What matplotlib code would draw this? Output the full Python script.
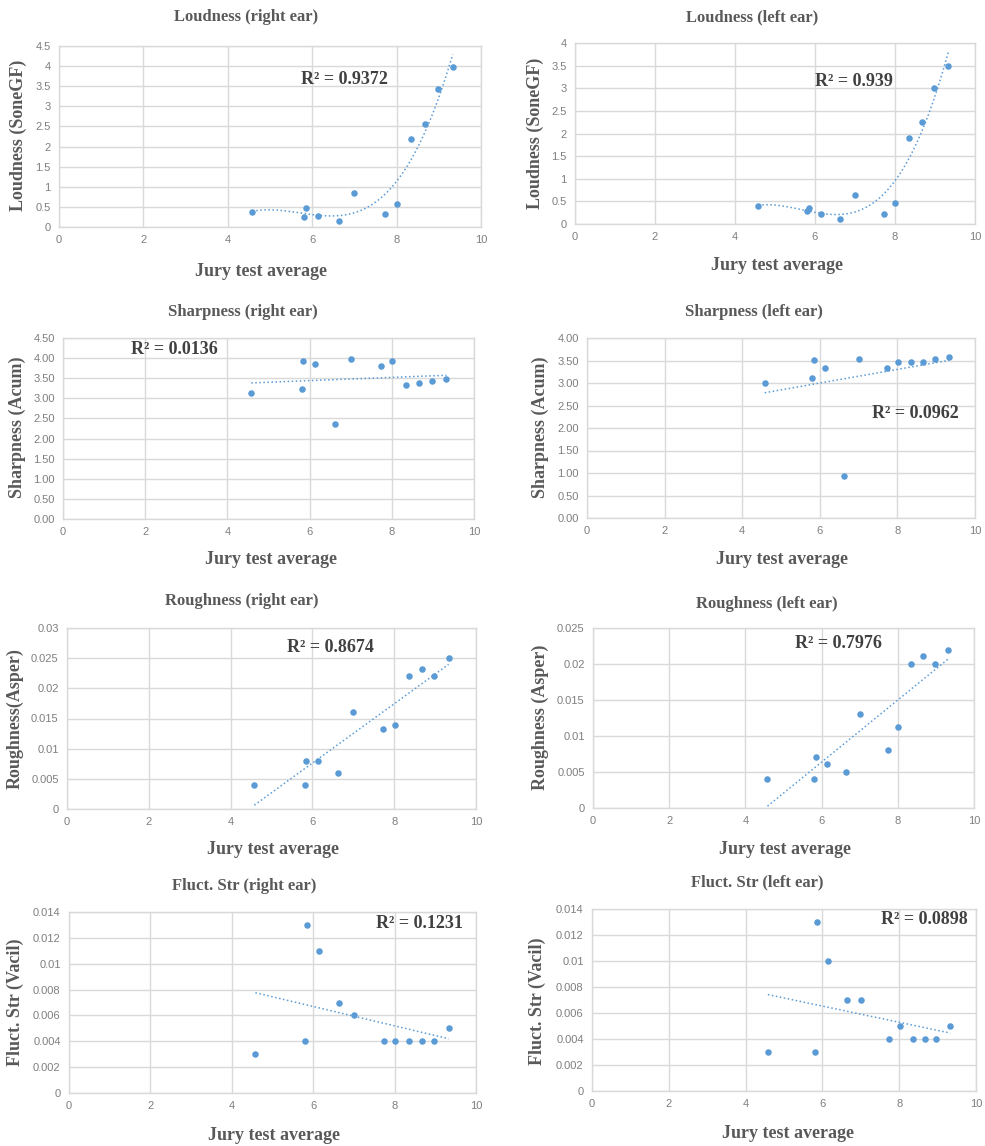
import numpy as np
import matplotlib
matplotlib.use('Agg')
import matplotlib.pyplot as plt
from matplotlib.ticker import FuncFormatter

W, H = 985, 1146

# jury test averages (same listening samples for every metric)
jury = [4.58, 5.81, 5.85, 6.14, 6.63, 7.0, 7.73, 8.01, 8.35, 8.67, 8.97, 9.33]

loud_right = [0.37, 0.24, 0.46, 0.28, 0.16, 0.85, 0.33, 0.58, 2.18, 2.56, 3.42, 3.99]
loud_left = [0.39, 0.28, 0.35, 0.23, 0.12, 0.65, 0.23, 0.46, 1.91, 2.25, 3.01, 3.50]
sharp_right = [3.13, 3.22, 3.94, 3.86, 2.36, 3.98, 3.81, 3.94, 3.34, 3.39, 3.44, 3.48]
sharp_left = [3.00, 3.11, 3.51, 3.34, 0.94, 3.54, 3.34, 3.46, 3.46, 3.46, 3.54, 3.57]
rough_right = [0.004, 0.004, 0.008, 0.008, 0.006, 0.016, 0.0132, 0.014, 0.022, 0.0232, 0.022, 0.025]
rough_left = [0.004, 0.004, 0.0071, 0.0061, 0.005, 0.013, 0.008, 0.0112, 0.020, 0.0211, 0.020, 0.022]
fluct_right = [0.003, 0.004, 0.013, 0.011, 0.007, 0.006, 0.004, 0.004, 0.004, 0.004, 0.004, 0.005]
fluct_left = [0.003, 0.003, 0.013, 0.010, 0.007, 0.007, 0.004, 0.005, 0.004, 0.004, 0.004, 0.005]

r2_text = ['0.9372', '0.939', '0.0136', '0.0962', '0.8674', '0.7976', '0.1231', '0.0898']

BLUE = '#5b9bd5'
GRID = '#d9d9d9'
TXT = '#595959'
SERIF = 'Liberation Serif'

fig = plt.figure(figsize=(W / 100, H / 100), dpi=100)


def fx(x):
    return x / W


def fy(y):
    return 1 - y / H


# panel: (title, ylabel, data, ymax, ystep, fmt, degree,
#         axes box l,t,r,b, title xy, xlabel xy, ylabel xy, r2 xy)
panels = [
    ('Loudness (right ear)', 'Loudness (SoneGF)', loud_right, 4.5, 0.5, '%g', 3,
     (59, 46, 481, 227), (246, 17), (261, 272), (18, 135), (344, 80)),
    ('Loudness (left ear)', 'Loudness (SoneGF)', loud_left, 4, 0.5, '%g', 3,
     (575, 43, 975, 224), (752, 17), (777, 265), (535, 133), (854, 82)),
    ('Sharpness (right ear)', 'Sharpness (Acum)', sharp_right, 4.5, 0.5, '%.2f', 1,
     (63, 338, 474, 519), (243, 312), (271, 559), (17, 427), (174, 349)),
    ('Sharpness (left ear)', 'Sharpness (Acum)', sharp_left, 4, 0.5, '%.2f', 1,
     (587, 338, 975, 518), (754, 312), (782, 559), (540, 427), (915, 414)),
    ('Roughness (right ear)', 'Roughness(Asper)', rough_right, 0.03, 0.005, '%g', 1,
     (67, 628, 476, 809), (242, 601), (273, 850), (15, 719), (330, 647)),
    ('Roughness (left ear)', 'Roughness (Asper)', rough_left, 0.025, 0.005, '%g', 1,
     (593, 628, 974, 808), (767, 604), (785, 850), (540, 717), (838, 643)),
    ('Fluct. Str (right ear)', 'Fluct. Str (Vacil)', fluct_right, 0.014, 0.002, '%g', 1,
     (69, 912, 476, 1093), (244, 886), (274, 1135), (15, 1002), (419, 924)),
    ('Fluct. Str (left ear)', 'Fluct. Str (Vacil)', fluct_left, 0.014, 0.002, '%g', 1,
     (592, 909, 976, 1091), (757, 882), (788, 1133), (537, 1001), (924, 919)),
]

x = np.array(jury)
for i, (title, ylab, vals, ymax, ystep, fmt, deg, box, tpos, xlpos, ylpos, rpos) in enumerate(panels):
    l, t, r, b = box
    ax = fig.add_axes([fx(l), fy(b), (r - l) / W, (b - t) / H])
    y = np.array(vals)
    ax.scatter(x, y, s=22, color=BLUE, zorder=3, linewidths=0)

    # trendline over the data range
    coef = np.polyfit(x, y, deg)
    xs = np.linspace(x.min(), x.max(), 200)
    ax.plot(xs, np.polyval(coef, xs), ':', color=BLUE, lw=1.1, zorder=2)

    ax.set_xlim(0, 10)
    ax.set_ylim(0, ymax)
    ax.set_xticks(np.arange(0, 11, 2))
    ax.set_yticks(np.arange(0, ymax + ystep / 2, ystep))
    ax.yaxis.set_major_formatter(FuncFormatter(lambda v, p, f=fmt: f % v))
    ax.grid(True, color=GRID, lw=1)
    ax.set_axisbelow(True)
    for s in ax.spines.values():
        s.set_color(GRID)
        s.set_linewidth(1)
    ax.tick_params(length=0, pad=6, labelsize=8, labelcolor='#7f7f7f')
    for lab in ax.get_xticklabels() + ax.get_yticklabels():
        lab.set_fontfamily('Liberation Sans')

    fig.text(fx(tpos[0]), fy(tpos[1]), title, ha='center', va='center',
             fontsize=12, fontweight='bold', color=TXT, family=SERIF)
    fig.text(fx(xlpos[0]), fy(xlpos[1]), 'Jury test average', ha='center', va='center',
             fontsize=13, fontweight='bold', color=TXT, family=SERIF)
    fig.text(fx(ylpos[0]), fy(ylpos[1]), ylab, ha='center', va='center', rotation=90,
             fontsize=13, fontweight='bold', color=TXT, family=SERIF)
    fig.text(fx(rpos[0]), fy(rpos[1]), 'R² = ' + r2_text[i], ha='center', va='center',
             fontsize=13, fontweight='bold', color='#404040', family=SERIF)

fig.savefig('out.png', dpi=100, facecolor='white')
